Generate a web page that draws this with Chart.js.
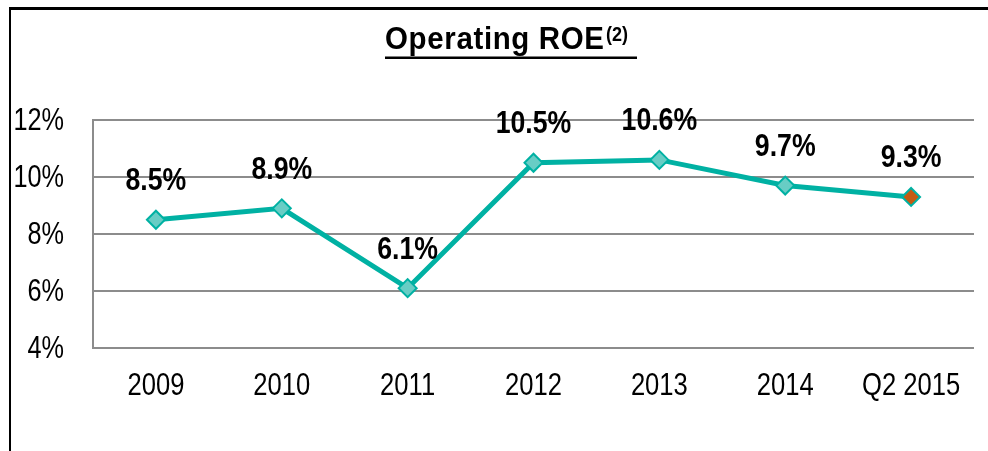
<!DOCTYPE html>
<html><head><meta charset="utf-8">
<script src="https://cdn.jsdelivr.net/npm/chart.js@4"></script>
<style>
html,body{margin:0;padding:0;background:#fff;}
#wrap{position:relative;width:988px;height:451px;}
#frame{position:absolute;left:9px;top:7px;width:979px;height:444px;border-top:3px solid #000;border-left:2px solid #000;box-sizing:border-box;pointer-events:none;}
canvas{position:absolute;left:0;top:0;}
</style></head>
<body>
<div id="wrap"><canvas id="c" width="988" height="451"></canvas><div id="frame"></div></div>
<script>
const categories = ['2009','2010','2011','2012','2013','2014','Q2 2015'];
const roeValues = [8.5, 8.9, 6.1, 10.5, 10.6, 9.7, 9.3];
const yTicks = [4, 6, 8, 10, 12];
const titleMain = 'Operating ROE';
const titleSup = '(2)';

const FONT = '"Liberation Sans", Arial, sans-serif';
const teal = '#00B1A3';
const tealFill = '#68CDC5';
const orange = '#C55A11';

const pointFills = roeValues.map((v,i)=> i===roeValues.length-1 ? orange : tealFill);

function drawText(ctx, text, x, y, font, sx, align, baseline, spacing){
  ctx.save();
  ctx.font = font;
  ctx.textBaseline = baseline;
  if (spacing) ctx.letterSpacing = spacing + 'px';
  const w = ctx.measureText(text).width * sx;
  let left = x;
  if (align === 'center') left = x - w/2;
  else if (align === 'right') left = x - w;
  ctx.translate(left, y);
  ctx.scale(sx, 1);
  ctx.textAlign = 'left';
  ctx.fillText(text, 0, 0);
  ctx.restore();
  return w;
}

const textPlugin = {
  id:'texts',
  afterDraw(chart){
    const ctx = chart.ctx;
    ctx.save();
    ctx.fillStyle = '#000';
    // data labels
    const meta = chart.getDatasetMeta(0);
    meta.data.forEach((pt,i)=>{
      drawText(ctx, roeValues[i].toFixed(1)+'%', pt.x, pt.y - 38, 'bold 31px ' + FONT, 0.86, 'center', 'middle');
    });
    // x tick labels
    const xs = chart.scales.x;
    categories.forEach((c,i)=>{
      drawText(ctx, c, xs.getPixelForValue(i), 386, '32px ' + FONT, 0.8, 'center', 'middle');
    });
    // y tick labels
    const ys = chart.scales.y;
    yTicks.forEach(v=>{
      drawText(ctx, v+'%', 64, ys.getPixelForValue(v) + 1, '32px ' + FONT, 0.79, 'right', 'middle');
    });
    // title
    const sxT = 0.95;
    ctx.font = 'bold 31px ' + FONT;
    const baseW = ctx.measureText(titleMain).width * sxT;
    const targetW = 219;
    const spacing = Math.max(0, (targetW - baseW) / (titleMain.length - 1) / sxT);
    const x0 = 385;
    drawText(ctx, titleMain, x0, 49, 'bold 31px ' + FONT, sxT, 'left', 'alphabetic', spacing);
    drawText(ctx, titleSup, 606, 41, 'bold 20px ' + FONT, 0.9, 'left', 'alphabetic');
    ctx.fillRect(x0, 56.5, 252, 2.5);
    ctx.restore();
  }
};

new Chart(document.getElementById('c'), {
  type:'line',
  data:{
    labels: categories,
    datasets:[{
      data: roeValues,
      borderColor: teal,
      borderWidth: 5,
      pointStyle: 'rectRot',
      pointRadius: 9,
      pointHoverRadius: 9,
      pointBackgroundColor: pointFills,
      pointBorderColor: teal,
      pointBorderWidth: 2,
      tension: 0
    }]
  },
  options:{
    responsive:false,
    animation:false,
    events:[],
    layout:{padding:{top:120, right:14, left:0, bottom:0}},
    plugins:{legend:{display:false}, tooltip:{enabled:false}, title:{display:false}},
    scales:{
      x:{
        offset:true,
        grid:{display:false, drawTicks:false},
        border:{display:false},
        ticks:{display:false},
        afterFit(s){ s.height = 103; }
      },
      y:{
        min:4, max:12,
        afterBuildTicks(s){ s.ticks = yTicks.map(v=>({value:v})); },
        grid:{color:'#8C8C8C', lineWidth:2, drawTicks:false},
        border:{display:true, color:'#8C8C8C', width:2},
        ticks:{display:false},
        afterFit(s){ s.width = 93; }
      }
    }
  },
  plugins:[textPlugin]
});
</script>
</body></html>
